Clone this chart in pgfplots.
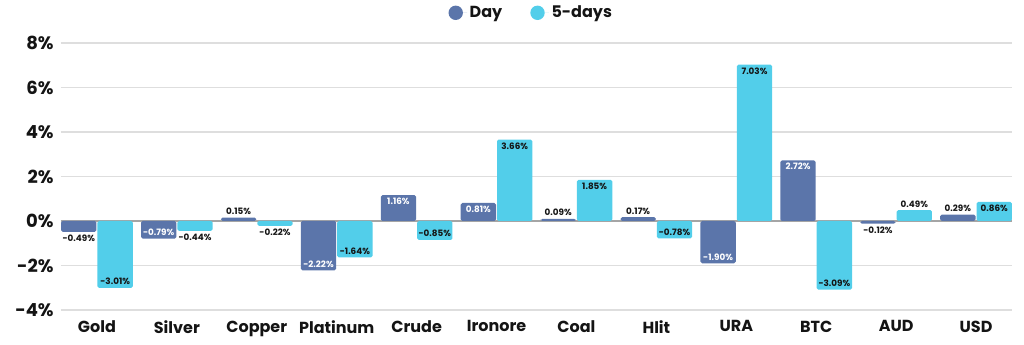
\documentclass[border=0pt]{standalone}
\usepackage{fontspec}
\setmainfont{Poppins}
\usepackage{pgfplots}
\pgfplotsset{compat=1.18}
\definecolor{dayc}{RGB}{91,117,170}
\definecolor{fivec}{RGB}{82,206,234}
\definecolor{gridc}{RGB}{222,222,222}
\definecolor{zeroc}{RGB}{165,165,165}
\definecolor{txt}{RGB}{20,20,20}
\pgfplotsset{
  vlab/.style={ybar, bar width=26.5pt, draw=none, fill=none, forget plot,
    nodes near coords={\pgfmathprintnumber[fixed,fixed zerofill,precision=2]{\pgfplotspointmeta}\%},
    nodes near coords style={font=\fontsize{6.6}{7}\selectfont\bfseries, inner sep=2pt}},
  dlab/.style={vlab, nodes near coords style={xshift=-13.65pt}},
  flab/.style={vlab, nodes near coords style={xshift=13.65pt}},
}
\begin{document}
\begin{tikzpicture}
\useasboundingbox (-45.75pt,-26.25pt) rectangle (722.25pt,232.5pt);
\begin{axis}[
  scale only axis,
  width=713.25pt, height=200.25pt,
  xmin=-0.45, xmax=11.45,
  ymin=-4, ymax=8,
  ytick={-4,-2,0,2,4,6,8},
  xtick={0,...,11},
  xticklabels={Gold,Silver,Copper,Platinum,Crude,Ironore,Coal,Hlit,URA,BTC,AUD,USD},
  /pgf/number format/assume math mode=true,
  yticklabel={\pgfmathprintnumber{\tick}\%},
  yticklabel style={font=\fontsize{13.5}{15}\selectfont\bfseries, text=txt, xshift=-2pt},
  xticklabel style={font=\fontsize{12}{14}\selectfont\bfseries, text=txt, yshift=-4.5pt},
  axis line style={draw=none},
  major tick length=0pt,
  ymajorgrids,
  grid style={gridc, line width=0.9pt},
  extra y ticks={0},
  extra y tick labels={},
  extra y tick style={grid style={zeroc, line width=1pt}},
  legend columns=2,
  legend style={at={(0.403,1.16)}, anchor=north west, draw=none, fill=none,
    font=\fontsize{12}{14}\selectfont\bfseries, text=txt,
    /tikz/every even column/.append style={column sep=19pt}},
  legend image code/.code={\fill[#1] (0pt,0pt) circle (5.4pt); \path (5.4pt,0pt) -- (8.5pt,0pt);},
  clip=false,
]
% bars
\addplot[ybar, bar width=26.5pt, bar shift=-13.65pt, fill=dayc, draw=none, rounded corners=1.2pt]
  coordinates {(0,-0.49) (1,-0.79) (2,0.15) (3,-2.22) (4,1.16) (5,0.81) (6,0.09) (7,0.17) (8,-1.90) (9,2.72) (10,-0.12) (11,0.29)};
\addlegendentry{Day}
\addplot[ybar, bar width=26.5pt, bar shift=13.65pt, fill=fivec, draw=none, rounded corners=1.2pt]
  coordinates {(0,-3.01) (1,-0.44) (2,-0.22) (3,-1.64) (4,-0.85) (5,3.66) (6,1.85) (7,-0.78) (8,7.03) (9,-3.09) (10,0.49) (11,0.86)};
\addlegendentry{5-days}
% value labels, Day
\addplot[dlab, nodes near coords style={anchor=north, text=txt}] coordinates {(0,-0.49) (10,-0.12)};
\addplot[dlab, nodes near coords style={anchor=south, text=txt}] coordinates {(2,0.15) (6,0.09) (7,0.17) (11,0.29)};
\addplot[dlab, nodes near coords style={anchor=south, text=white}] coordinates {(1,-0.79) (3,-2.22) (8,-1.90)};
\addplot[dlab, nodes near coords style={anchor=north, text=white}] coordinates {(4,1.16) (5,0.81) (9,2.72)};
% value labels, 5-days
\addplot[flab, nodes near coords style={anchor=south, text=txt}] coordinates {(0,-3.01) (3,-1.64) (4,-0.85) (7,-0.78) (9,-3.09) (10,0.49)};
\addplot[flab, nodes near coords style={anchor=north, text=txt}] coordinates {(1,-0.44) (2,-0.22) (5,3.66) (6,1.85) (8,7.03) (11,0.86)};
\end{axis}
\end{tikzpicture}
\end{document}
